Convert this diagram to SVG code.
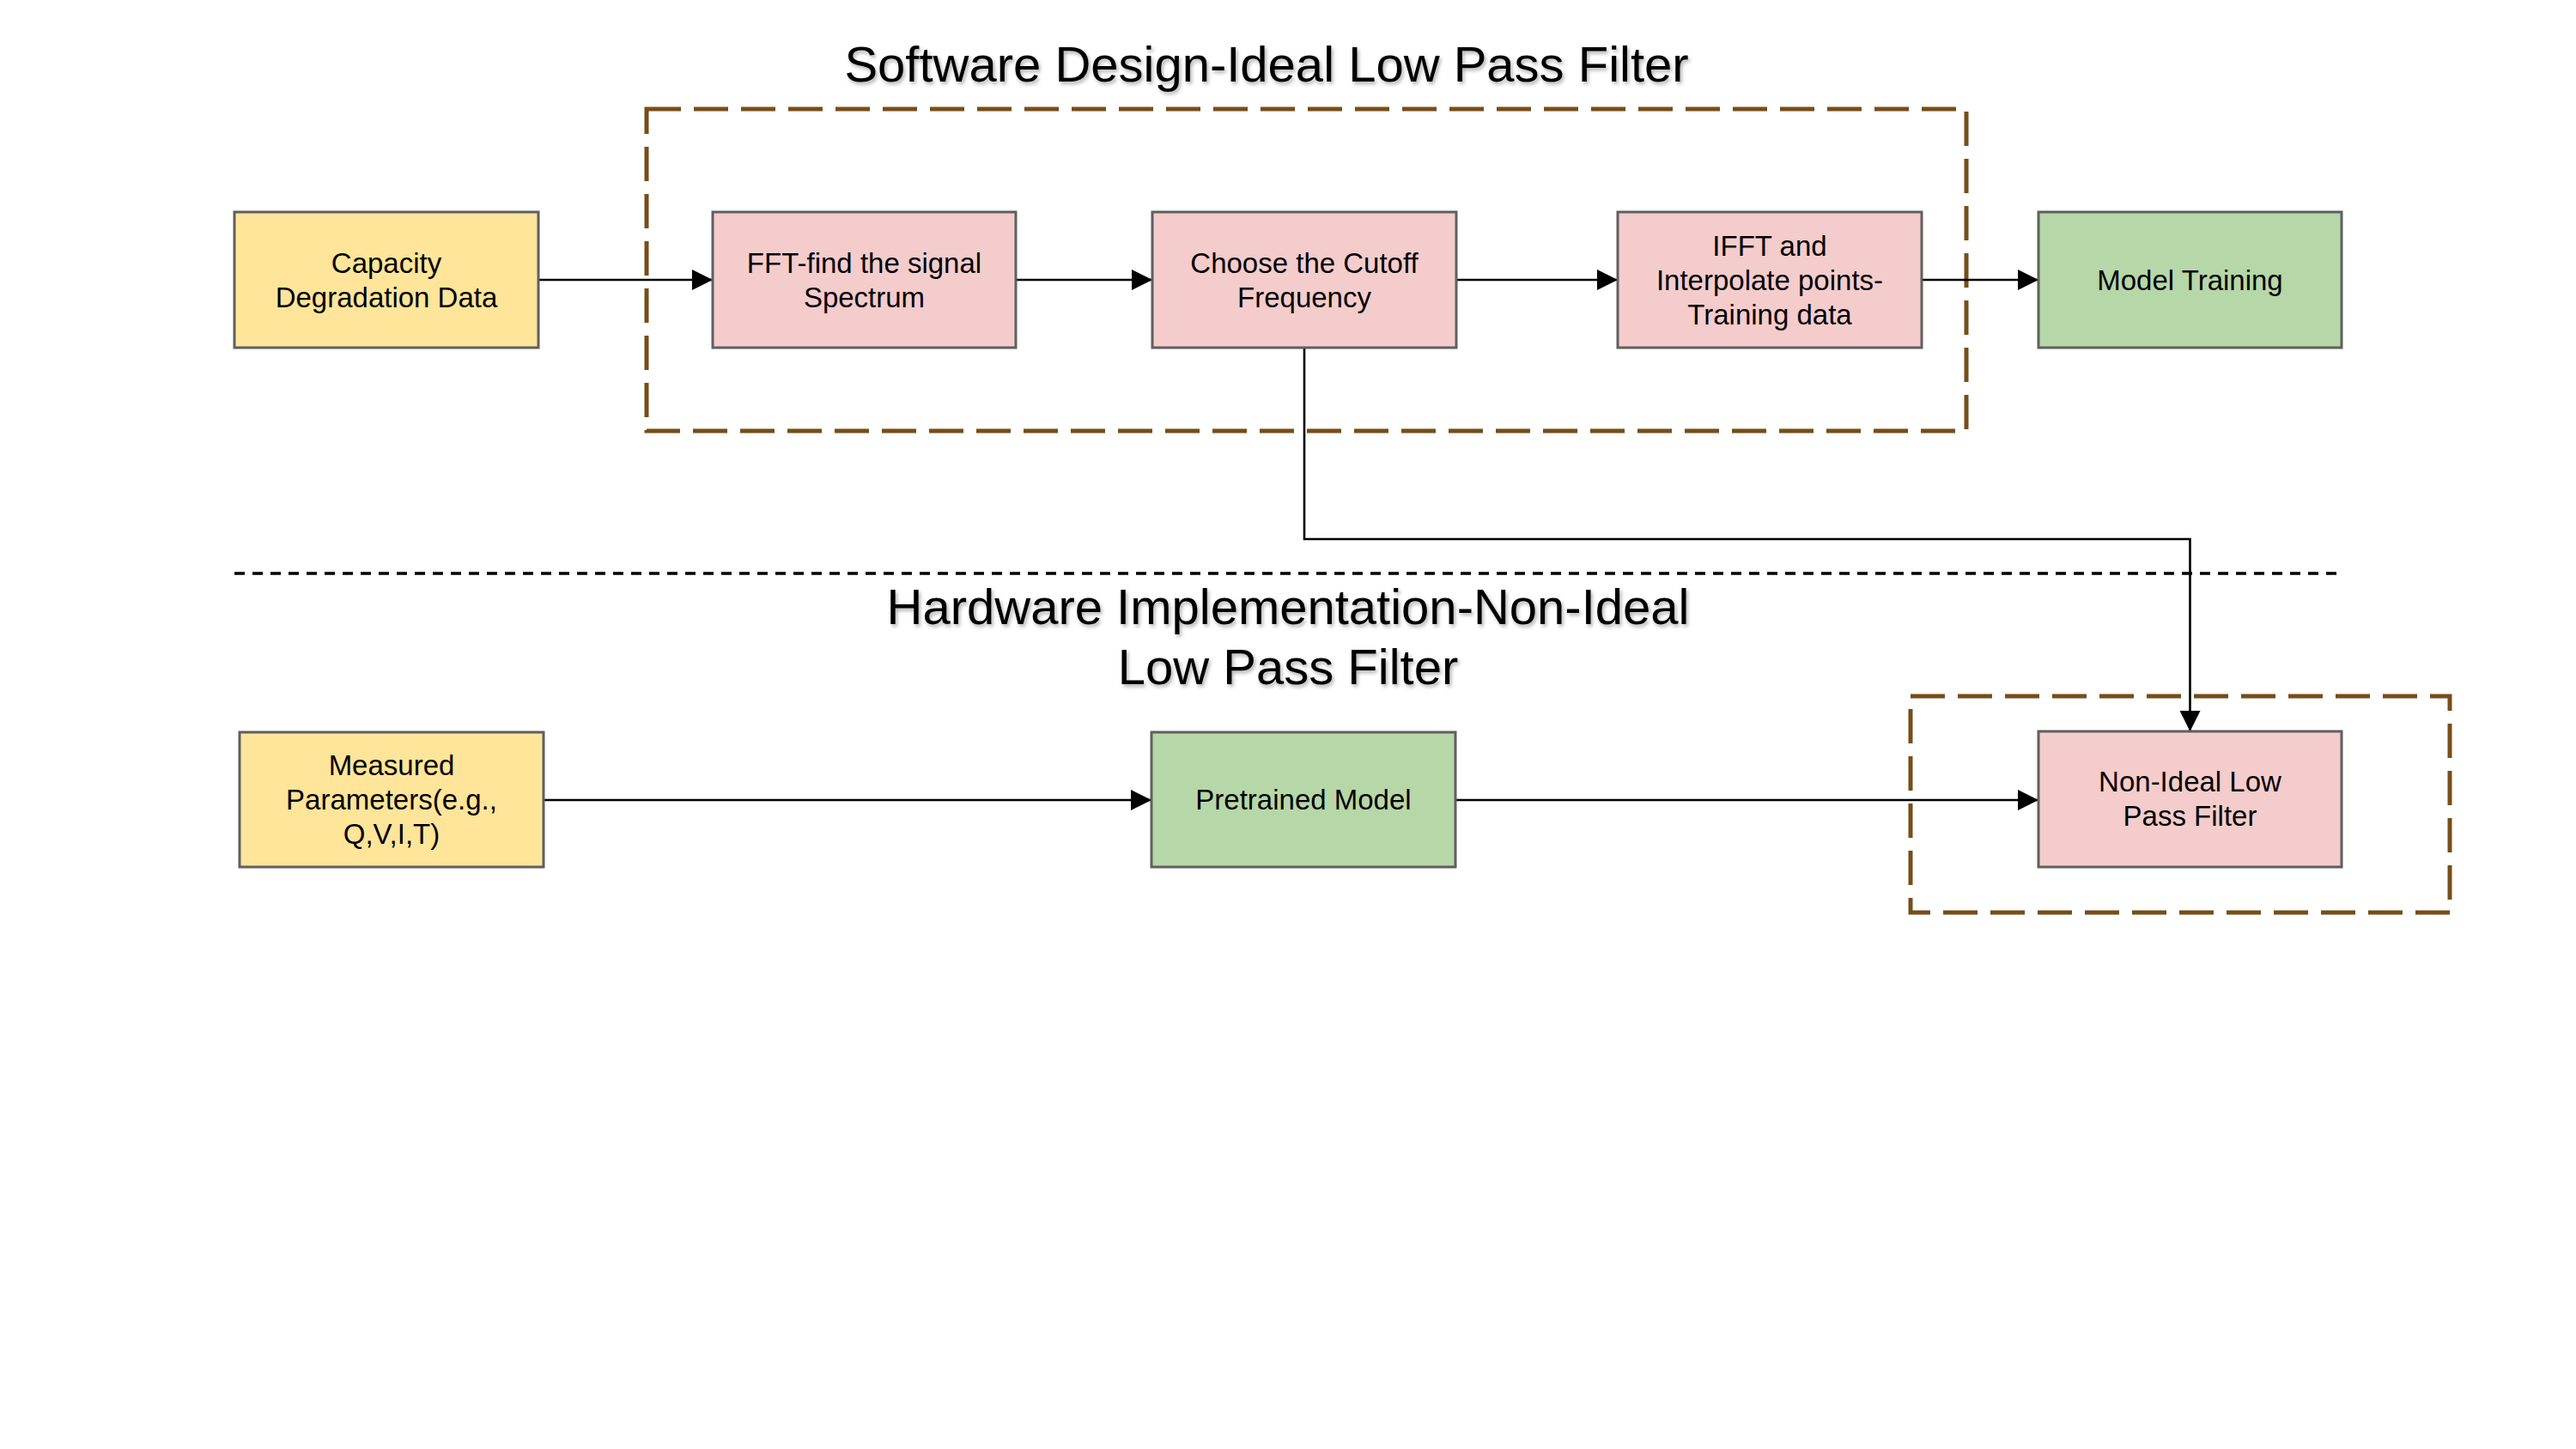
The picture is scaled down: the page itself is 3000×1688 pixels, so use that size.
<svg xmlns="http://www.w3.org/2000/svg" width="3000" height="1688" viewBox="0 0 3000 1688">
  <style>
    .box { stroke: #5f5f5f; stroke-width: 3; }
    .yellow { fill: #FFE599; }
    .pink { fill: #F4CCCC; }
    .green { fill: #B6D7A8; }
    .lbl { font-family: "Liberation Sans", Arial, sans-serif; font-size: 33px; fill: #000; text-anchor: middle; }
    .title { font-family: "Liberation Sans", Arial, sans-serif; fill: #000; text-anchor: middle; filter: url(#shadow); }
    .group { fill: none; stroke: #774D18; stroke-width: 5; stroke-dasharray: 40 15; }
    .conn { fill: none; stroke: #000; stroke-width: 2.6; marker-end: url(#arrow); }
    .sep { fill: none; stroke: #000; stroke-width: 3.5; stroke-dasharray: 12 9; }
  </style>
  <defs>
    <marker id="arrow" markerUnits="userSpaceOnUse" markerWidth="24" markerHeight="24" refX="24" refY="12" orient="auto">
      <path d="M0,0 L24,12 L0,24 Z" fill="#000"/>
    </marker>
    <filter id="shadow" x="-5%" y="-20%" width="110%" height="150%">
      <feDropShadow dx="2" dy="3" stdDeviation="2" flood-color="#000" flood-opacity="0.3"/>
    </filter>
  </defs>
  <rect width="3000" height="1688" fill="#fff"/>

  <g id="titles">
    <text class="title" x="1475" y="95" font-size="58">Software Design-Ideal Low Pass Filter</text>
    <text class="title" x="1500" y="727" font-size="58">Hardware Implementation-Non-Ideal</text>
    <text class="title" x="1500" y="797" font-size="58">Low Pass Filter</text>
  </g>

  <g id="groups">
    <rect id="software-group" class="group" x="753" y="127" width="1537" height="375"/>
    <rect id="hardware-group" class="group" x="2225" y="811" width="628" height="252"/>
    <line id="separator" class="sep" x1="273" y1="668" x2="2723" y2="668"/>
  </g>

  <g id="connectors">
    <path class="conn" d="M627 326 H830"/>
    <path class="conn" d="M1183 326 H1342"/>
    <path class="conn" d="M1696 326 H1884"/>
    <path class="conn" d="M2238 326 H2374"/>
    <path class="conn" d="M1519 405 V628 H2550.5 V852"/>
    <path class="conn" d="M633 932 H1341"/>
    <path class="conn" d="M1695 932 H2374"/>
  </g>

  <g id="capacity">
    <rect class="box yellow" x="273" y="247" width="354" height="158"/>
    <text class="lbl" x="450" y="318">Capacity</text>
    <text class="lbl" x="450" y="358">Degradation Data</text>
  </g>
  <g id="fft">
    <rect class="box pink" x="830" y="247" width="353" height="158"/>
    <text class="lbl" x="1006.5" y="318">FFT-find the signal</text>
    <text class="lbl" x="1006.5" y="358">Spectrum</text>
  </g>
  <g id="cutoff">
    <rect class="box pink" x="1342" y="247" width="354" height="158"/>
    <text class="lbl" x="1519" y="318">Choose the Cutoff</text>
    <text class="lbl" x="1519" y="358">Frequency</text>
  </g>
  <g id="ifft">
    <rect class="box pink" x="1884" y="247" width="354" height="158"/>
    <text class="lbl" x="2061" y="298">IFFT and</text>
    <text class="lbl" x="2061" y="338">Interpolate points-</text>
    <text class="lbl" x="2061" y="378">Training data</text>
  </g>
  <g id="model-training">
    <rect class="box green" x="2374" y="247" width="353" height="158"/>
    <text class="lbl" x="2550.5" y="338">Model Training</text>
  </g>
  <g id="measured">
    <rect class="box yellow" x="279" y="853" width="354" height="157"/>
    <text class="lbl" x="456" y="903">Measured</text>
    <text class="lbl" x="456" y="943">Parameters(e.g.,</text>
    <text class="lbl" x="456" y="983">Q,V,I,T)</text>
  </g>
  <g id="pretrained">
    <rect class="box green" x="1341" y="853" width="354" height="157"/>
    <text class="lbl" x="1518" y="943">Pretrained Model</text>
  </g>
  <g id="non-ideal">
    <rect class="box pink" x="2374" y="852" width="353" height="158"/>
    <text class="lbl" x="2550.5" y="922">Non-Ideal Low</text>
    <text class="lbl" x="2550.5" y="962">Pass Filter</text>
  </g>
</svg>
